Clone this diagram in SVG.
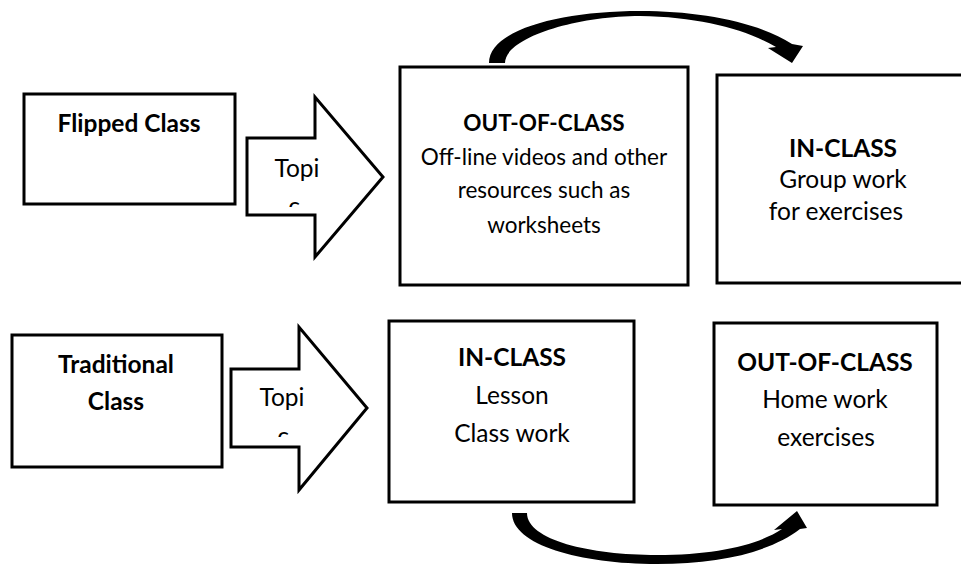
<svg xmlns="http://www.w3.org/2000/svg" width="961" height="565" viewBox="0 0 961 565">
<style>
.box{fill:#fff;stroke:#000;stroke-width:3}
.blk{fill:#fff;stroke:#000;stroke-width:3;stroke-linejoin:miter}
.t{font-family:Lato,"Open Sans","Liberation Sans",sans-serif;font-size:24.5px;fill:#000;text-anchor:middle}
.b{font-weight:bold}
.s{font-size:22.5px}
.curve{fill:#000;stroke:none}
</style>
<defs>
<clipPath id="clip1"><rect x="247" y="140" width="80" height="67"/></clipPath>
<clipPath id="clip2"><rect x="231" y="371" width="80" height="66"/></clipPath>
</defs>
<rect width="961" height="565" fill="#fff"/>

<g id="flipped">
<rect class="box" x="24" y="94" width="211" height="110"/>
<text class="t b" x="129" y="132">Flipped Class</text>
</g>

<g id="topic1">
<polygon class="blk" points="247,138 315,138 315,97 383,177 315,257 315,215 247,215"/>
<g clip-path="url(#clip1)">
<text class="t" x="297" y="177">Topi</text>
<text class="t" x="294" y="215">c</text>
</g>
</g>

<g id="outclass-top">
<rect class="box" x="400" y="67" width="288" height="218"/>
<text class="t b s" x="544" y="131">OUT-OF-CLASS</text>
<text class="t s" x="544" y="165">Off-line videos and other</text>
<text class="t s" x="544" y="198">resources such as</text>
<text class="t s" x="544" y="233">worksheets</text>
</g>

<g id="inclass-top">
<rect class="box" x="717" y="75" width="270" height="208"/>
<text class="t b" x="843" y="157">IN-CLASS</text>
<text class="t" x="843" y="188">Group work</text>
<text class="t" x="836" y="220">for exercises</text>
</g>

<g id="traditional">
<rect class="box" x="12" y="335" width="210" height="132"/>
<text class="t b" x="116" y="373">Traditional</text>
<text class="t b" x="116" y="410">Class</text>
</g>

<g id="topic2">
<polygon class="blk" points="231,369 299,369 299,327 367,408 299,490 299,447 231,447"/>
<g clip-path="url(#clip2)">
<text class="t" x="282" y="406">Topi</text>
<text class="t" x="283" y="445">c</text>
</g>
</g>

<g id="inclass-bottom">
<rect class="box" x="389" y="321" width="245" height="181"/>
<text class="t b" x="512" y="366">IN-CLASS</text>
<text class="t" x="512" y="404">Lesson</text>
<text class="t" x="512" y="442">Class work</text>
</g>

<g id="outclass-bottom">
<rect class="box" x="714" y="323" width="223" height="182"/>
<text class="t b" x="825" y="371">OUT-OF-CLASS</text>
<text class="t" x="825" y="408">Home work</text>
<text class="t" x="826" y="446">exercises</text>
</g>

<g id="connectors">
<path class="curve" d="M489,63 C489,30 560,11 640,11 C700,11 758,22 792,44 L803,46 L792,63 L768,48 L776,47 C745,29 700,17 640,16 C575,16 505,38 505,63 Z"/>
<path class="curve" d="M527,513 C527,540 590,555 657,555 C715,555 758,545 782,529 L774,530 L797,511 L807,528 L800,529 C770,552 720,564 657,564 C580,564 512,545 512,513 Z"/>
</g>
</svg>
